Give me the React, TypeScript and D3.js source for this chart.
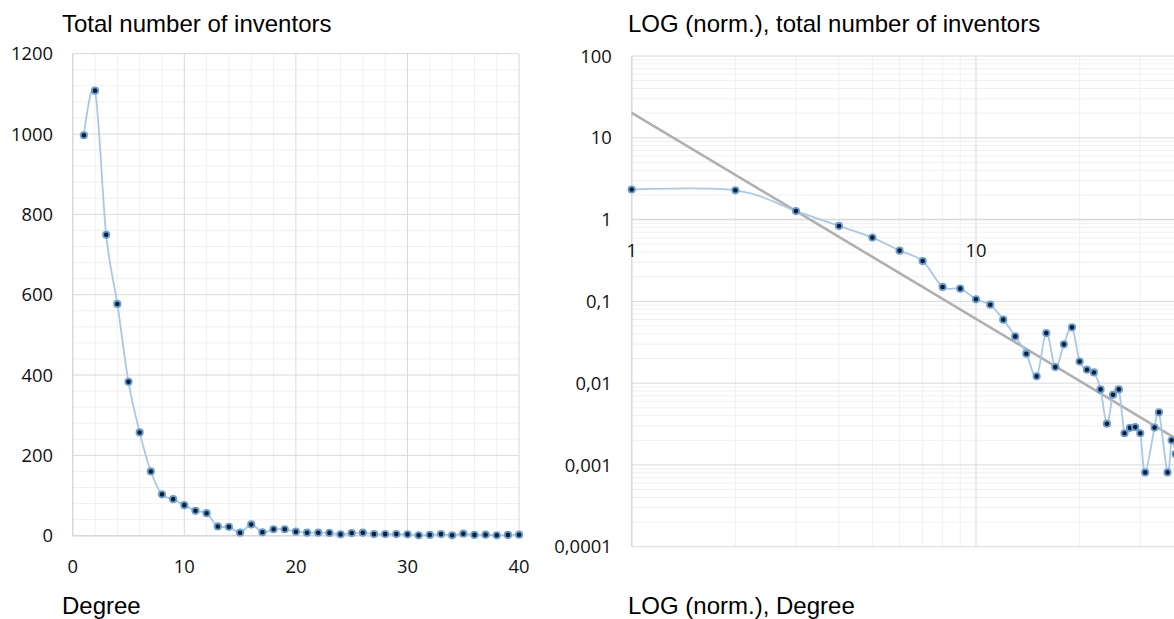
import React from "react";
import * as d3 from "d3";

// ---------- data ----------
const leftDegrees = [1, 2, 3, 4, 5, 6, 7, 8, 9, 10, 11, 12, 13, 14, 15, 16, 17, 18, 19, 20, 21, 22, 23, 24, 25, 26, 27, 28, 29, 30, 31, 32, 33, 34, 35, 36, 37, 38, 39, 40];
const leftCounts = [997, 1108, 749, 577, 383, 257, 160, 103, 91, 76, 62, 56, 23, 22, 7.5, 28, 8.5, 16, 16, 10, 7.5, 7.5, 7, 3.3, 6.6, 7.5, 4, 4, 4, 3.3, 1, 2, 4, 1, 5, 2, 2.5, 1, 2, 2.5];

const rightDegrees = [1, 2, 3, 4, 5, 6, 7, 8, 9, 10, 11, 12, 13, 14, 15, 16, 17, 18, 19, 20, 21, 22, 23, 24, 25, 26, 27, 28, 29, 30, 31, 33, 34, 36, 37, 38];
const rightValues = [2.33, 2.28, 1.27, 0.835, 0.602, 0.417, 0.311, 0.15, 0.143, 0.106, 0.091, 0.0597, 0.0373, 0.0229, 0.0121, 0.0409, 0.0157, 0.0298, 0.0481, 0.0184, 0.0146, 0.0135, 0.00838, 0.00319, 0.00721, 0.00838, 0.00244, 0.00284, 0.0029, 0.00244, 0.00081, 0.00286, 0.0044, 0.00081, 0.002, 0.00136];

const trendCoef = 20.2;
const trendExp = -2.52;

const leftYTicks = [0, 200, 400, 600, 800, 1000, 1200];
const leftXTicks = [0, 10, 20, 30, 40];
const rightYTicks = [0.0001, 0.001, 0.01, 0.1, 1, 10, 100];
const rightYLabels = ["0,0001", "0,001", "0,01", "0,1", "1", "10", "100"];
const rightXTicks = [1, 10];
const rightXLabels = ["1", "10"];

const titles = {
  leftTop: "Total number of inventors",
  leftBottom: "Degree",
  rightTop: "LOG (norm.), total number of inventors",
  rightBottom: "LOG (norm.), Degree",
};

// ---------- styles ----------
const MAJOR = "#d9d9d9";
const MINOR = "#f0f0f0";
const LINE = "#a9c8e8";
const MARK_FILL = "#0f1f33";
const MARK_STROKE = "#6a9fd4";
const TITLE_FONT = "'Liberation Sans', Arial, sans-serif";
const TICK_FONT = "'Open Sans', 'Noto Sans', sans-serif";

export default function App() {
  // left scales
  const xL = d3.scaleLinear().domain([0, 40]).range([72.7, 519.1]);
  const yL = d3.scaleLinear().domain([0, 1200]).range([535.7, 53.7]);
  // right scales
  const xR = d3.scaleLog().domain([1, 100]).range([631.7, 1320.3]);
  const yR = d3.scaleLog().domain([0.0001, 100]).range([546.7, 56]);

  const leftPts = leftDegrees.map((d, i) => [xL(d), yL(leftCounts[i])] as [number, number]);
  const rightPts = rightDegrees.map((d, i) => [xR(d), yR(rightValues[i])] as [number, number]);

  const smooth = d3.line().curve(d3.curveCardinal.tension(0));

  const leftMinorY = d3.range(0, 1201, 40).filter((v) => v % 200 !== 0);
  const leftMinorX = d3.range(0, 41, 2).filter((v) => v % 10 !== 0);

  const decadesY = [0.0001, 0.001, 0.01, 0.1, 1, 10];
  const rightMinorY: number[] = [];
  decadesY.forEach((d) => {
    for (let k = 2; k <= 9; k++) rightMinorY.push(d * k);
  });
  const rightMinorX: number[] = [];
  [1, 10].forEach((d) => {
    for (let k = 2; k <= 9; k++) rightMinorX.push(d * k);
  });
  const rightMajorX = [1, 10, 100];

  const trendXs = [1, 100];
  const trendPath = d3.line()(trendXs.map((x) => [xR(x), yR(trendCoef * Math.pow(x, trendExp))] as [number, number]));

  const [lx0, lx1] = xL.range();
  const [ly0, ly1] = yL.range();
  const [rx0, rx1] = xR.range();
  const [ry0, ry1] = yR.range();

  return (
    <div style={{ position: "absolute", left: 0, top: 0, width: 1174, height: 619, overflow: "hidden", background: "#fff" }}>
      <svg width={1174} height={619} style={{ display: "block" }}>
        <rect x={0} y={0} width={1174} height={619} fill="#fff" />
        {/* ---------- LEFT CHART ---------- */}
        <g>
          {leftMinorY.map((v) => (
            <line key={"lmy" + v} x1={lx0} x2={lx1} y1={yL(v)} y2={yL(v)} stroke={MINOR} strokeWidth={1} />
          ))}
          {leftMinorX.map((v) => (
            <line key={"lmx" + v} x1={xL(v)} x2={xL(v)} y1={ly0} y2={ly1} stroke={MINOR} strokeWidth={1} />
          ))}
          {leftYTicks.map((v) => (
            <line key={"lMy" + v} x1={lx0} x2={lx1} y1={yL(v)} y2={yL(v)} stroke={MAJOR} strokeWidth={1} />
          ))}
          {leftXTicks.map((v) => (
            <line key={"lMx" + v} x1={xL(v)} x2={xL(v)} y1={ly0} y2={ly1} stroke={MAJOR} strokeWidth={1} />
          ))}
          <line x1={lx0} x2={lx1} y1={ly0} y2={ly0} stroke={MAJOR} strokeWidth={1.5} />
          <line x1={lx0} x2={lx0} y1={ly0} y2={ly1} stroke={MAJOR} strokeWidth={1.5} />

          <path d={smooth(leftPts) || ""} fill="none" stroke={LINE} strokeWidth={1.8} />
          {leftPts.map((p, i) => (
            <circle key={"lp" + i} cx={p[0]} cy={p[1]} r={3.2} fill={MARK_FILL} stroke={MARK_STROKE} strokeWidth={1.8} />
          ))}

          {leftYTicks.map((v) => (
            <text key={"lyt" + v} x={53} y={yL(v)} dy="0.36em" textAnchor="end" fontFamily={TICK_FONT} fontSize={18.4} fill="#111">
              {v}
            </text>
          ))}
          {leftXTicks.map((v) => (
            <text key={"lxt" + v} x={xL(v)} y={573} textAnchor="middle" fontFamily={TICK_FONT} fontSize={18.4} fill="#111">
              {v}
            </text>
          ))}
          <text x={62} y={32} fontFamily={TITLE_FONT} fontSize={24} fill="#000">
            {titles.leftTop}
          </text>
          <text x={62} y={614} fontFamily={TITLE_FONT} fontSize={24} fill="#000">
            {titles.leftBottom}
          </text>
        </g>

        {/* ---------- RIGHT CHART ---------- */}
        <g>
          {rightMinorY.map((v, i) => (
            <line key={"rmy" + i} x1={rx0} x2={rx1} y1={yR(v)} y2={yR(v)} stroke={MINOR} strokeWidth={1} />
          ))}
          {rightMinorX.map((v, i) => (
            <line key={"rmx" + i} x1={xR(v)} x2={xR(v)} y1={ry0} y2={ry1} stroke={MINOR} strokeWidth={1} />
          ))}
          {rightYTicks.map((v, i) => (
            <line key={"rMy" + i} x1={rx0} x2={rx1} y1={yR(v)} y2={yR(v)} stroke={MAJOR} strokeWidth={1} />
          ))}
          {rightMajorX.map((v, i) => (
            <line key={"rMx" + i} x1={xR(v)} x2={xR(v)} y1={ry0} y2={ry1} stroke={MAJOR} strokeWidth={1} />
          ))}
          <line x1={rx0} x2={rx1} y1={yR(1)} y2={yR(1)} stroke={MAJOR} strokeWidth={1.5} />
          <line x1={rx0} x2={rx0} y1={ry0} y2={ry1} stroke={MAJOR} strokeWidth={1.5} />

          <path d={trendPath || ""} fill="none" stroke="#b0b0b0" strokeWidth={2.6} />
          <path d={smooth(rightPts) || ""} fill="none" stroke={LINE} strokeWidth={1.8} />
          {rightPts.map((p, i) => (
            <circle key={"rp" + i} cx={p[0]} cy={p[1]} r={3.2} fill={MARK_FILL} stroke={MARK_STROKE} strokeWidth={1.8} />
          ))}

          {rightYTicks.map((v, i) => (
            <text key={"ryt" + i} x={611.7} y={yR(v)} dy="0.36em" textAnchor="end" fontFamily={TICK_FONT} fontSize={18.4} fill="#111">
              {rightYLabels[i]}
            </text>
          ))}
          {rightXTicks.map((v, i) => (
            <text key={"rxt" + i} x={xR(v)} y={yR(1) + 37} textAnchor="middle" fontFamily={TICK_FONT} fontSize={18.4} fill="#111">
              {rightXLabels[i]}
            </text>
          ))}
          <text x={628} y={32} fontFamily={TITLE_FONT} fontSize={24} fill="#000">
            {titles.rightTop}
          </text>
          <text x={628} y={614} fontFamily={TITLE_FONT} fontSize={24} fill="#000">
            {titles.rightBottom}
          </text>
        </g>
      </svg>
    </div>
  );
}
